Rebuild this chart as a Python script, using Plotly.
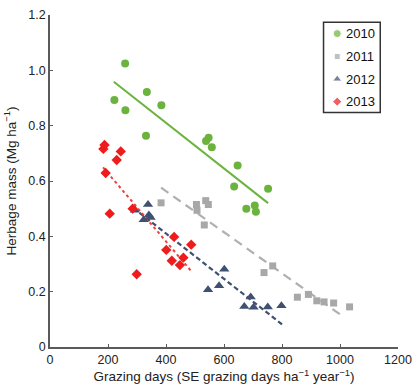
import plotly.graph_objects as go

# ---- data ----
x2010 = [222, 259, 260, 331, 334, 384, 538, 547, 558, 635, 647, 677, 706, 710, 752]
y2010 = [0.893, 1.025, 0.856, 0.764, 0.922, 0.874, 0.745, 0.756, 0.722, 0.580, 0.656, 0.500, 0.511, 0.489, 0.572]

x2011 = [383, 505, 507, 532, 537, 546, 738, 768, 853, 891, 920, 945, 978, 1033]
y2011 = [0.521, 0.515, 0.494, 0.441, 0.529, 0.515, 0.269, 0.293, 0.180, 0.190, 0.167, 0.163, 0.159, 0.145]

x2012 = [293, 323, 338, 341, 347, 545, 583, 601, 670, 692, 702, 751, 798]
y2012 = [0.494, 0.460, 0.515, 0.477, 0.468, 0.207, 0.221, 0.281, 0.146, 0.181, 0.144, 0.145, 0.149]

x2013 = [184, 188, 192, 206, 230, 244, 285, 299, 401, 420, 428, 448, 460, 487]
y2013 = [0.716, 0.730, 0.629, 0.482, 0.676, 0.707, 0.500, 0.263, 0.351, 0.312, 0.398, 0.296, 0.323, 0.370]

# trend line end points
trend2010_x = [220, 752]
trend2010_y = [0.959, 0.520]
trend2011_x = [383, 1016]
trend2011_y = [0.576, 0.106]
trend2012_x = [287, 800]
trend2012_y = [0.503, 0.082]
trend2013_x = [183, 488]
trend2013_y = [0.649, 0.273]

years = ["2010", "2011", "2012", "2013"]
x_ticks = [0, 200, 400, 600, 800, 1000, 1200]
y_ticks = [0, 0.2, 0.4, 0.6, 0.8, 1.0, 1.2]
y_tick_text = ["0", "0.2", "0.4", "0.6", "0.8", "1.0", "1.2"]

GREEN = "#6cb33e"
GRAY = "#a8a8a8"
NAVY = "#3f5070"
RED = "#ee1c1c"

colors = [GREEN, GRAY, NAVY, RED]
symbols = ["circle", "square", "triangle-up", "diamond"]
sizes = [8, 7, 9, 8]
legend_sizes = [8, 6, 8, 7]

fig = go.Figure()

fig.add_trace(go.Scatter(x=trend2010_x, y=trend2010_y, mode="lines",
                         line=dict(color=GREEN, width=2), showlegend=False, hoverinfo="skip"))
fig.add_trace(go.Scatter(x=trend2011_x, y=trend2011_y, mode="lines",
                         line=dict(color="#b0b0b0", width=2.2, dash="9px,6px"), showlegend=False, hoverinfo="skip"))
fig.add_trace(go.Scatter(x=trend2012_x, y=trend2012_y, mode="lines",
                         line=dict(color=NAVY, width=2.2, dash="5px,3px"), showlegend=False, hoverinfo="skip"))
fig.add_trace(go.Scatter(x=trend2013_x, y=trend2013_y, mode="lines",
                         line=dict(color="#f04040", width=2, dash="dot"), showlegend=False, hoverinfo="skip"))

for xs, ys, i in [(x2010, y2010, 0), (x2011, y2011, 1), (x2012, y2012, 2), (x2013, y2013, 3)]:
    fig.add_trace(go.Scatter(x=xs, y=ys, mode="markers", name=years[i], showlegend=False,
                             marker=dict(symbol=symbols[i], size=sizes[i], color=colors[i])))

# ---- legend box (drawn on an overlay axis in 0..1 units of the plot area) ----
leg_left, leg_right, leg_top, leg_bottom = 0.786, 0.949, 0.978, 0.706
leg_rows = [0.944, 0.875, 0.807, 0.739]
leg_mark_x = 0.8254
leg_text_x = 0.846

fig.add_trace(go.Scatter(x=[leg_mark_x] * 4, y=leg_rows, mode="markers", xaxis="x2", yaxis="y2",
                         showlegend=False, hoverinfo="skip",
                         marker=dict(symbol=symbols, size=legend_sizes, color=colors)))
fig.add_shape(type="rect", xref="paper", yref="paper", x0=leg_left, x1=leg_right,
              y0=leg_bottom, y1=leg_top, line=dict(color="#333", width=1.5), fillcolor="rgba(0,0,0,0)",
              layer="above")
for i, yr in enumerate(years):
    fig.add_annotation(x=leg_text_x, y=leg_rows[i], xref="paper", yref="paper", text=yr,
                       showarrow=False, xanchor="left", yanchor="middle",
                       font=dict(size=13, color="#111"))

axis_common = dict(
    showgrid=False, zeroline=False, showline=True, linecolor="#5a5a5a", linewidth=1.5,
    ticks="inside", ticklen=3, tickcolor="#5a5a5a", tickwidth=1.2,
    ticklabeloverflow="allow",
    tickfont=dict(family="Liberation Sans, Arial, sans-serif", size=12.5, color="#222"),
)

fig.update_layout(
    width=420, height=389,
    margin=dict(l=50, r=15, t=8, b=42),
    plot_bgcolor="white", paper_bgcolor="white",
    font=dict(family="Liberation Sans, Arial, sans-serif", color="#222"),
    xaxis=dict(range=[0, 1200], tickvals=x_ticks, ticktext=[str(v) for v in x_ticks],
               title=dict(text="Grazing days (SE grazing days ha<sup>−1</sup> year<sup>−1</sup>)",
                          font=dict(size=13.5), standoff=4),
               **axis_common),
    yaxis=dict(range=[0, 1.2], tickvals=y_ticks, ticktext=y_tick_text,
               title=dict(text="Herbage mass (Mg ha<sup>−1</sup>)", font=dict(size=13.5), standoff=9),
               **axis_common),
    xaxis2=dict(overlaying="x", range=[0, 1], visible=False, fixedrange=True),
    yaxis2=dict(overlaying="y", range=[0, 1], visible=False, fixedrange=True),
    showlegend=False,
)

fig.write_html("out.html", config={"displayModeBar": False},
               post_script="document.body.style.margin='0';document.body.style.overflow='hidden';")
